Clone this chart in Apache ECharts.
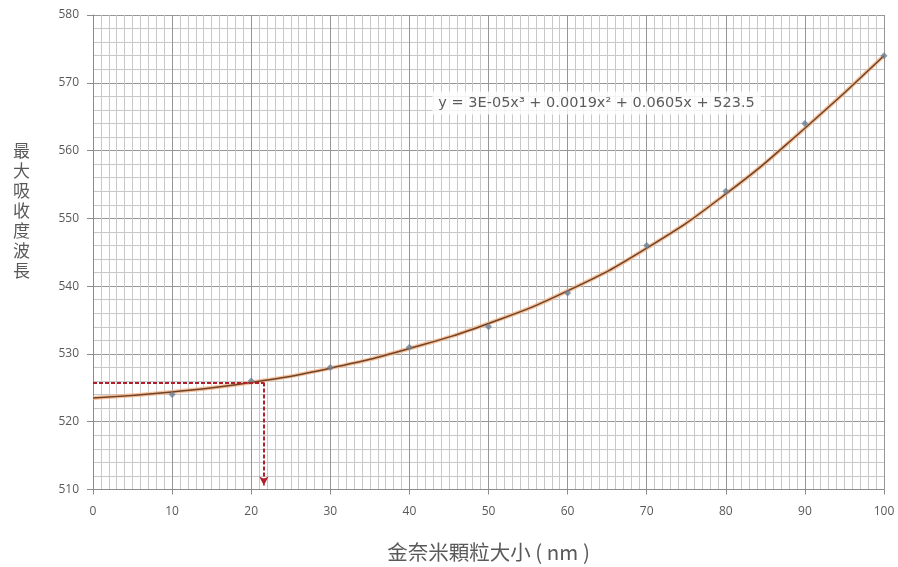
<!DOCTYPE html>
<html>
<head>
<meta charset="utf-8">
<script src="https://cdn.jsdelivr.net/npm/echarts@6/dist/echarts.min.js"></script>
<style>
html,body{margin:0;padding:0;background:#fff;}
#chart{width:898px;height:567px;}
</style>
</head>
<body>
<div id="chart"></div>
<script>
// Measured data points (particle size nm, max absorbance wavelength)
const sizes = [10, 20, 30, 40, 50, 60, 70, 80, 90, 100];
const wavelengths = [524, 526, 528, 531, 534, 539, 546, 554, 564, 574];
// Trendline
const trendX = [0, 10, 20, 30, 40, 50, 60, 70, 80, 90, 100];
const trendY = [523.5, 524.4, 525.8, 527.9, 530.8, 534.5, 539.3, 545.6, 553.6, 563.3, 574.0];
// Red dashed read-off arrow
const readX = 21.6;
const readY = 525.8;
const axisYMin = 510;
// Equation label
const equationText = 'y = 3E-05x³ + 0.0019x² + 0.0605x + 523.5';
const equationPos = [42.9, 567.0];
const xTitle = '金奈米顆粒大小 ( nm )';
const yTitle = '最大吸收度波長';

const chart = echarts.init(document.getElementById('chart'));
const font = '"Open Sans", "Noto Sans CJK TC", sans-serif';
const cjk = '"Noto Sans CJK TC", "Noto Sans", sans-serif';
chart.setOption({
  animation: false,
  grid: {left: 93, right: 14, top: 15, bottom: 76},
  graphic: [{
    type: 'text', left: 13, top: 141,
    style: {
      text: yTitle.split('').join('\n'),
      fontSize: 17, lineHeight: 20, fill: '#595959', fontFamily: cjk, align: 'center'
    }
  }],
  xAxis: {
    type: 'value', min: 0, max: 100, interval: 10,
    name: xTitle, nameLocation: 'middle', nameGap: 52,
    nameTextStyle: {fontSize: 20.5, color: '#595959', fontFamily: cjk},
    axisLine: {show: true, lineStyle: {color: '#8c8c8c'}},
    axisTick: {show: true, length: 5, lineStyle: {color: '#8c8c8c'}},
    axisLabel: {color: '#595959', fontSize: 12, fontFamily: font, margin: 16},
    splitLine: {show: true, lineStyle: {color: '#969696', width: 1}},
    minorTick: {show: false, splitNumber: 10},
    minorSplitLine: {show: true, lineStyle: {color: '#c8c8c8', width: 1}}
  },
  yAxis: {
    type: 'value', min: 510, max: 580, interval: 10,
    axisLine: {show: true, lineStyle: {color: '#8c8c8c'}},
    axisTick: {show: true, length: 6, lineStyle: {color: '#8c8c8c'}},
    axisLabel: {color: '#595959', fontSize: 12, fontFamily: font, margin: 14},
    splitLine: {show: true, lineStyle: {color: '#969696', width: 1}},
    minorTick: {show: false, splitNumber: 5},
    minorSplitLine: {show: true, lineStyle: {color: '#c8c8c8', width: 1}}
  },
  series: [
    {
      type: 'line', name: 'trend-glow', smooth: true, symbol: 'none',
      data: trendX.map((x, i) => [x, trendY[i]]),
      lineStyle: {color: '#f4b183', width: 4, opacity: 0.8},
      z: 2
    },
    {
      type: 'line', name: 'trend', smooth: true, symbol: 'none',
      data: trendX.map((x, i) => [x, trendY[i]]),
      lineStyle: {color: '#6e4328', width: 1.5},
      z: 3,
      markLine: {
        silent: true,
        symbol: ['none', 'arrow'],
        symbolSize: [7, 9],
        lineStyle: {color: '#b0202a', type: [4, 2], width: 2},
        label: {show: false},
        data: [
          [{coord: [0, readY], symbol: 'none'}, {coord: [readX, readY], symbol: 'none'}],
          [{coord: [readX, readY], symbol: 'none'}, {coord: [readX, axisYMin + 0.6], symbol: 'arrow'}]
        ]
      }
    },
    {
      type: 'scatter', name: 'data', symbol: 'diamond', symbolSize: 7,
      data: sizes.map((x, i) => [x, wavelengths[i]]),
      itemStyle: {color: '#6b7f95'},
      z: 4
    },
    {
      type: 'scatter', name: 'eq', symbolSize: 0,
      data: [equationPos],
      silent: true,
      label: {
        show: true, position: 'right', distance: 0,
        formatter: equationText,
        color: '#333', fontSize: 14.5, fontFamily: '"DejaVu Sans", sans-serif',
        backgroundColor: '#fff', padding: [4, 6]
      },
      z: 5
    }
  ]
});
</script>
</body>
</html>
